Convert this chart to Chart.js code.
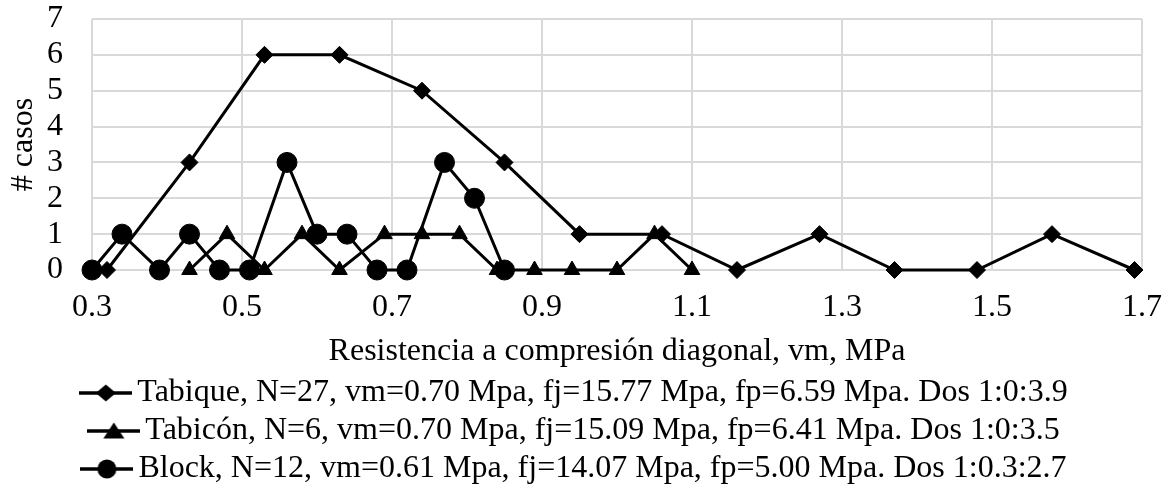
<!DOCTYPE html>
<html>
<head>
<meta charset="utf-8">
<script src="https://cdn.jsdelivr.net/npm/chart.js@4/dist/chart.umd.min.js"></script>
<style>
  body { margin: 0; background: #fff; }
</style>
</head>
<body>
<canvas id="myChart" width="1170" height="485"></canvas>
<script>
// data
const seriesNames = [
    'Tabique, N=27, vm=0.70 Mpa, fj=15.77 Mpa, fp=6.59 Mpa. Dos 1:0:3.9',
    'Tabicón, N=6, vm=0.70 Mpa, fj=15.09 Mpa, fp=6.41 Mpa. Dos 1:0:3.5',
    'Block, N=12, vm=0.61 Mpa, fj=14.07 Mpa, fp=5.00 Mpa. Dos 1:0.3:2.7'
];
const tabiqueX = [0.32, 0.43, 0.53, 0.63, 0.74, 0.85, 0.95, 1.06, 1.16, 1.27, 1.37, 1.48, 1.58, 1.69];
const tabiqueY = [0, 3, 6, 6, 5, 3, 1, 1, 0, 1, 0, 0, 1, 0];
const tabiconX = [0.43, 0.48, 0.53, 0.58, 0.63, 0.69, 0.74, 0.79, 0.84, 0.89, 0.94, 1.00, 1.05, 1.10];
const tabiconY = [0, 1, 0, 1, 0, 1, 1, 1, 0, 0, 0, 0, 1, 0];
const blockX = [0.30, 0.34, 0.39, 0.43, 0.47, 0.51, 0.56, 0.60, 0.64, 0.68, 0.72, 0.77, 0.81, 0.85];
const blockY = [0, 1, 0, 1, 0, 0, 3, 1, 1, 0, 0, 3, 2, 0];
const xTicks = [0.3, 0.5, 0.7, 0.9, 1.1, 1.3, 1.5, 1.7];

const FONT = "'Liberation Serif', 'Times New Roman', serif";
const FONT_SIZE = 32;

const toPoints = (xs, ys) => xs.map((x, i) => ({ x: x, y: ys[i] }));

// legend icons: short line with the marker in the middle
const makeIcon = (shape) => {
    const c = document.createElement('canvas');
    c.width = 53;
    c.height = 24;
    const ctx = c.getContext('2d');
    ctx.strokeStyle = '#000';
    ctx.fillStyle = '#000';
    ctx.lineWidth = 3.5;
    ctx.beginPath();
    ctx.moveTo(0, 12);
    ctx.lineTo(53, 12);
    ctx.stroke();
    ctx.beginPath();
    if (shape === 'diamond') {
        ctx.moveTo(26.5, 3.5); ctx.lineTo(36.5, 12); ctx.lineTo(26.5, 20.5); ctx.lineTo(16.5, 12);
    } else if (shape === 'triangle') {
        ctx.moveTo(26.5, 3.5); ctx.lineTo(37, 19.5); ctx.lineTo(16, 19.5);
    } else {
        ctx.arc(26.5, 12, 9.5, 0, Math.PI * 2);
    }
    ctx.closePath();
    ctx.fill();
    return c;
}
const legendIcons = [makeIcon('diamond'), makeIcon('triangle'), makeIcon('circle')];

const lineStyle = (pointStyle, radius) => ({
    showLine: true,
    borderColor: '#000',
    backgroundColor: '#000',
    borderWidth: 3,
    pointStyle: pointStyle,
    pointRadius: radius,
    pointHoverRadius: radius,
    pointBackgroundColor: '#000',
    pointBorderColor: '#000',
    pointBorderWidth: 1,
    clip: false
});

const data = {
    datasets: [
        Object.assign({ label: seriesNames[0], data: toPoints(tabiqueX, tabiqueY) }, lineStyle('rectRot', 8.5)),
        Object.assign({ label: seriesNames[1], data: toPoints(tabiconX, tabiconY) }, lineStyle('triangle', 9)),
        Object.assign({ label: seriesNames[2], data: toPoints(blockX, blockY) }, lineStyle('circle', 10))
    ]
};

const config = {
    type: 'scatter',
    data: data,
    options: {
        responsive: false,
        animation: false,
        layout: {
            autoPadding: false,
            padding: { left: 0, right: 12, top: 19, bottom: -10 }
        },
        scales: {
            x: {
                type: 'linear',
                min: 0.3,
                max: 1.7,
                afterBuildTicks: (scale) => {
                    scale.ticks = xTicks.map(v => ({ value: v }));
                },
                grid: { color: '#d9d9d9', lineWidth: 2, drawTicks: false },
                border: { display: false },
                ticks: {
                    color: '#000',
                    padding: 18,
                    maxRotation: 0,
                    font: { family: FONT, size: FONT_SIZE },
                    callback: (v) => Number(v).toFixed(1)
                },
                title: {
                    display: true,
                    text: 'Resistencia a compresión diagonal, vm, MPa',
                    color: '#000',
                    padding: { top: 0, bottom: 0 },
                    font: { family: FONT, size: FONT_SIZE }
                },
                afterFit: (scale) => {
                    // fixed axis band under the plot, room on the right for "1.7"
                    scale.height = 101;
                    scale.paddingLeft = 0;
                    scale.paddingRight = 28;
                }
            },
            y: {
                min: 0,
                max: 7,
                grid: { color: '#d9d9d9', lineWidth: 2, drawTicks: false },
                border: { display: false },
                ticks: {
                    color: '#000',
                    stepSize: 1,
                    autoSkip: false,
                    padding: 29,
                    font: { family: FONT, size: FONT_SIZE }
                },
                title: {
                    display: true,
                    text: '# casos',
                    color: '#000',
                    font: { family: FONT, size: FONT_SIZE }
                },
                afterFit: (scale) => {
                    scale.width = 92;
                    scale.paddingTop = 0;
                    scale.paddingBottom = 0;
                }
            }
        },
        plugins: {
            legend: {
                position: 'bottom',
                labels: {
                    color: '#000',
                    usePointStyle: true,
                    pointStyleWidth: 31,
                    padding: 6,
                    font: { family: FONT, size: FONT_SIZE },
                    generateLabels: (chart) => {
                        const items = Chart.defaults.plugins.legend.labels.generateLabels(chart);
                        return items.map((item, i) => Object.assign(item, { pointStyle: legendIcons[i] }));
                    }
                }
            },
            tooltip: { enabled: false }
        }
    }
};

const myChart = new Chart(document.getElementById('myChart'), config);
</script>
</body>
</html>
